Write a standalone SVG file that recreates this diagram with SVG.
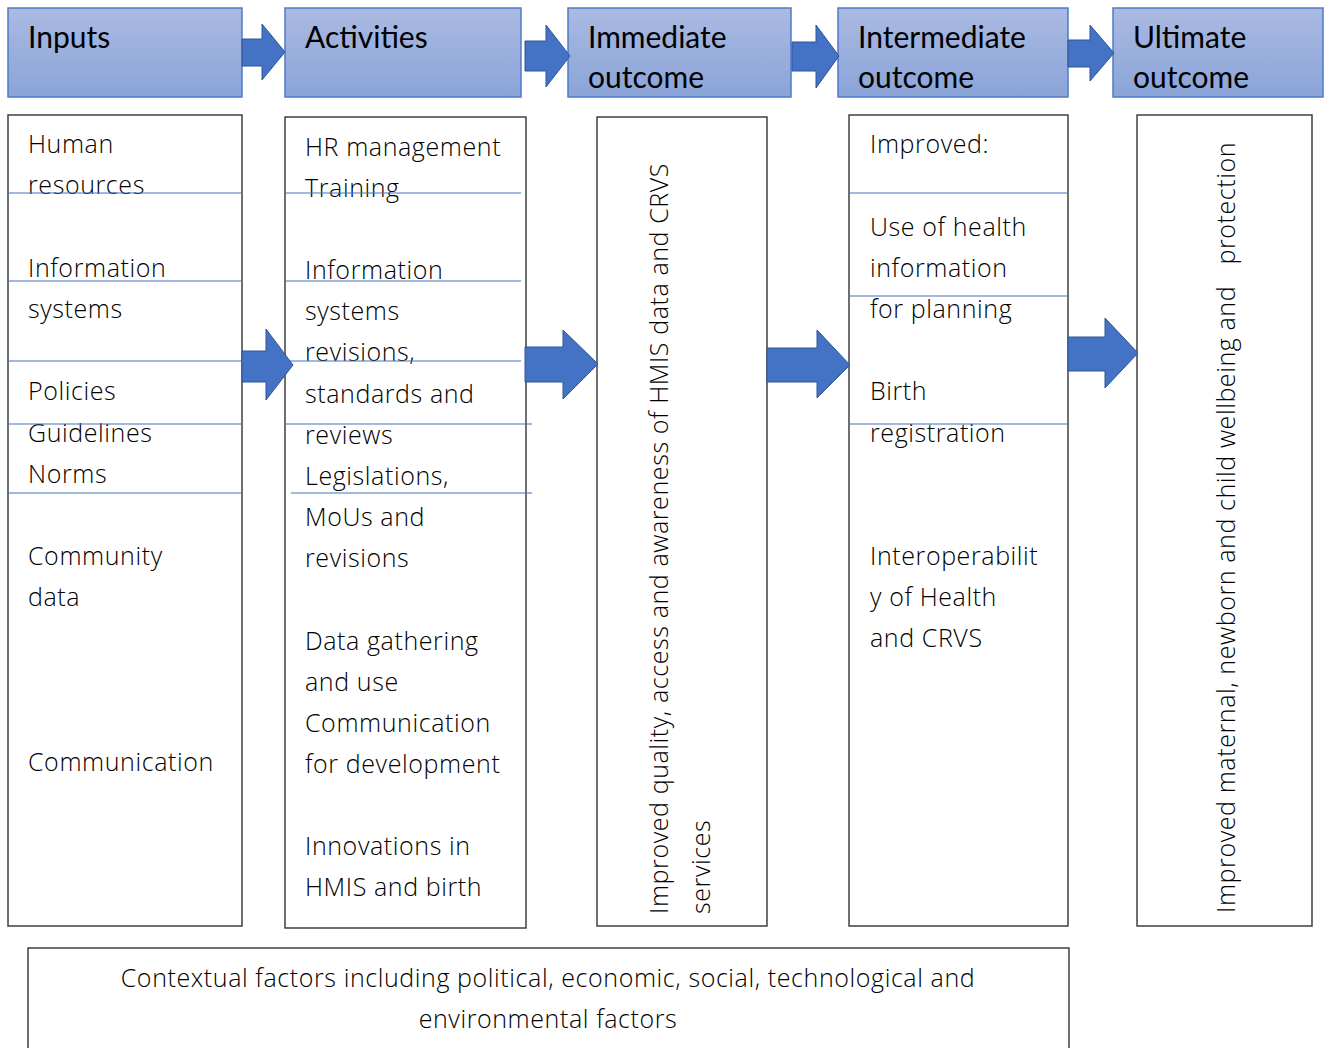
<svg xmlns="http://www.w3.org/2000/svg" width="1329" height="1048" viewBox="0 0 1329 1048">
  <defs>
    <linearGradient id="hdrFill" x1="0" y1="0" x2="0" y2="1">
      <stop offset="0" stop-color="#aabae2"/>
      <stop offset="1" stop-color="#8aa4d8"/>
    </linearGradient>
  </defs>
  <style>
    .hdr { fill: url(#hdrFill); stroke: #4f7acb; stroke-width: 1.5; }
    .hdr-text { font-family: Lato, "Liberation Sans", sans-serif; font-size: 30px; fill: #000; }
    .box { fill: #fff; stroke: #333; stroke-width: 1.4; }
    .sep { stroke: #4472c4; stroke-width: 1.2; fill: none; }
    .body { font-family: "Open Sans", "Liberation Sans", sans-serif; font-weight: 300; font-size: 25px; letter-spacing: 0.6px; fill: #000; }
    .arrow { fill: #4472c4; stroke: #2f5597; stroke-width: 1; }
  </style>

  <rect width="1329" height="1048" fill="#fff"/>

  <!-- header row -->
  <g id="hdr-inputs">
    <rect class="hdr" x="8" y="8" width="234" height="89"/>
    <text class="hdr-text" x="28" y="48">Inputs</text>
  </g>
  <g id="hdr-activities">
    <rect class="hdr" x="285" y="8" width="236" height="89"/>
    <text class="hdr-text" x="305" y="48">Activities</text>
  </g>
  <g id="hdr-immediate">
    <rect class="hdr" x="568" y="8" width="223" height="89"/>
    <text class="hdr-text" x="588" y="48">Immediate</text>
    <text class="hdr-text" x="588" y="88">outcome</text>
  </g>
  <g id="hdr-intermediate">
    <rect class="hdr" x="838" y="8" width="230" height="89"/>
    <text class="hdr-text" x="858" y="48">Intermediate</text>
    <text class="hdr-text" x="858" y="88">outcome</text>
  </g>
  <g id="hdr-ultimate">
    <rect class="hdr" x="1113" y="8" width="210" height="89"/>
    <text class="hdr-text" x="1133" y="48">Ultimate</text>
    <text class="hdr-text" x="1133" y="88">outcome</text>
  </g>

  <!-- column: inputs -->
  <g id="col-inputs">
    <rect class="box" x="8" y="115" width="234" height="811"/>
    <g class="body">
      <text x="28" y="153">Human</text>
      <text x="28" y="194">resources</text>
      <text x="28" y="277">Information</text>
      <text x="28" y="318">systems</text>
      <text x="28" y="400">Policies</text>
      <text x="28" y="442">Guidelines</text>
      <text x="28" y="483">Norms</text>
      <text x="28" y="565">Community</text>
      <text x="28" y="606">data</text>
      <text x="28" y="771">Communication</text>
    </g>
    <path class="sep" d="M8 193H241M8 281H241M8 361H241M8 424H241M8 493H241"/>
  </g>

  <!-- column: activities -->
  <g id="col-activities">
    <rect class="box" x="285" y="117" width="241" height="811"/>
    <g class="body">
      <text x="305" y="156">HR management</text>
      <text x="305" y="197">Training</text>
      <text x="305" y="279">Information</text>
      <text x="305" y="320">systems</text>
      <text x="305" y="361">revisions,</text>
      <text x="305" y="403">standards and</text>
      <text x="305" y="444">reviews</text>
      <text x="305" y="485">Legislations,</text>
      <text x="305" y="526">MoUs and</text>
      <text x="305" y="567">revisions</text>
      <text x="305" y="650">Data gathering</text>
      <text x="305" y="691">and use</text>
      <text x="305" y="732">Communication</text>
      <text x="305" y="773">for development</text>
      <text x="305" y="855">Innovations in</text>
      <text x="305" y="896">HMIS and birth</text>
    </g>
    <path class="sep" d="M285 193H521M285 281H521M285 361H521M285 424H532M291 493H532"/>
  </g>

  <!-- column: immediate outcome -->
  <g id="col-immediate">
    <rect class="box" x="597" y="117" width="170" height="809"/>
    <text class="body" transform="translate(668 914) rotate(-90)">Improved quality, access and awareness of HMIS data and CRVS</text>
    <text class="body" transform="translate(710 914) rotate(-90)">services</text>
  </g>

  <!-- column: intermediate outcome -->
  <g id="col-intermediate">
    <rect class="box" x="849" y="115" width="219" height="811"/>
    <g class="body">
      <text x="870" y="153">Improved:</text>
      <text x="870" y="236">Use of health</text>
      <text x="870" y="277">information</text>
      <text x="870" y="318">for planning</text>
      <text x="870" y="400">Birth</text>
      <text x="870" y="442">registration</text>
      <text x="870" y="565">Interoperabilit</text>
      <text x="870" y="606">y of Health</text>
      <text x="870" y="647">and CRVS</text>
    </g>
    <path class="sep" d="M849 193H1068M849 296H1068M849 424H1068"/>
  </g>

  <!-- column: ultimate outcome -->
  <g id="col-ultimate">
    <rect class="box" x="1137" y="115" width="175" height="811"/>
    <text class="body" style="white-space:pre" transform="translate(1235 913) rotate(-90)">Improved maternal, newborn and child wellbeing and   protection</text>
  </g>

  <!-- context band -->
  <g id="context">
    <rect class="box" x="28" y="948" width="1041" height="120"/>
    <text class="body" x="548" y="987" text-anchor="middle">Contextual factors including political, economic, social, technological and</text>
    <text class="body" x="548" y="1028" text-anchor="middle">environmental factors</text>
  </g>

  <!-- block arrows between stages -->
  <g id="connectors">
    <polygon class="arrow" points="242,39 262,39 262,24 285,52 262,80 262,66 242,66"/>
    <polygon class="arrow" points="525,41 546,41 546,25 570,56 546,87 546,71 525,71"/>
    <polygon class="arrow" points="792,42 816,42 816,25 839,56 816,88 816,71 792,71"/>
    <polygon class="arrow" points="1068,40 1090,40 1090,25 1114,53 1090,81 1090,67 1068,67"/>

    <polygon class="arrow" points="242,351 266,351 266,329 293,365 266,400 266,382 242,382"/>
    <polygon class="arrow" points="525,347 563,347 563,330 598,364 563,399 563,382 525,382"/>
    <polygon class="arrow" points="767,348 817,348 817,330 850,365 817,398 817,382 767,382"/>
    <polygon class="arrow" points="1068,337 1105,337 1105,318 1138,353 1105,388 1105,371 1068,371"/>
  </g>
</svg>
